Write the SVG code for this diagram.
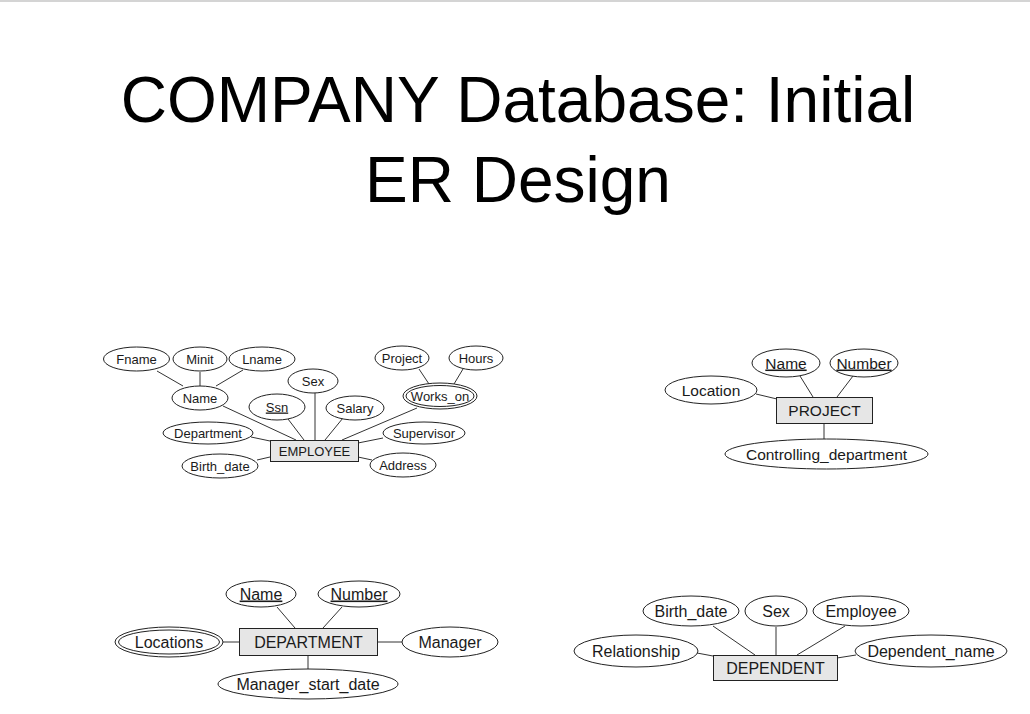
<svg xmlns="http://www.w3.org/2000/svg" width="1030" height="714" viewBox="0 0 1030 714">
<style>
.t{font-family:"Liberation Sans",Arial,sans-serif;fill:#1a1a1a;text-anchor:middle}
.title{font-size:64px;fill:#000}
.s{font-size:13px}
.m{font-size:15.5px}
.l{font-size:16px}
.u{text-decoration:underline}
ellipse{fill:#fff;stroke:#222;stroke-width:1}
rect.e{fill:#e6e6e6;stroke:#222;stroke-width:1}
#connectors line{stroke:#333;stroke-width:1}
</style>
<rect x="0" y="0" width="1030" height="714" fill="#fff"/>
<rect x="0" y="0" width="1030" height="2" fill="#d4d4d4"/>
<text class="t title" x="518" y="122">COMPANY Database: Initial</text>
<text class="t title" x="518" y="202">ER Design</text>

<g id="connectors">
<!-- EMPLOYEE -->
<line x1="157" y1="371" x2="183" y2="386"/>
<line x1="200" y1="372" x2="200" y2="387"/>
<line x1="243" y1="370" x2="216" y2="386"/>
<line x1="223" y1="406" x2="296" y2="440"/>
<line x1="288" y1="419" x2="304" y2="440"/>
<line x1="315" y1="393" x2="315" y2="440"/>
<line x1="343" y1="418" x2="325" y2="440"/>
<line x1="417" y1="408" x2="342" y2="440"/>
<line x1="251" y1="437" x2="270" y2="441"/>
<line x1="257" y1="460" x2="270" y2="457"/>
<line x1="383" y1="438" x2="358" y2="443"/>
<line x1="358" y1="457" x2="372" y2="460"/>
<line x1="419" y1="369" x2="429" y2="384"/>
<line x1="463" y1="369" x2="454" y2="384"/>
<!-- PROJECT -->
<line x1="800" y1="376" x2="813" y2="397"/>
<line x1="853" y1="376" x2="837" y2="397"/>
<line x1="756" y1="394" x2="777" y2="399"/>
<line x1="824" y1="423" x2="824" y2="439"/>
<!-- DEPARTMENT -->
<line x1="277" y1="607" x2="295" y2="628"/>
<line x1="342" y1="607" x2="323" y2="628"/>
<line x1="223" y1="642" x2="239" y2="642"/>
<line x1="377" y1="642" x2="402" y2="642"/>
<line x1="308" y1="655" x2="308" y2="669"/>
<!-- DEPENDENT -->
<line x1="713" y1="626" x2="755" y2="655"/>
<line x1="776" y1="627" x2="776" y2="655"/>
<line x1="845" y1="626" x2="797" y2="655"/>
<line x1="697" y1="653" x2="713" y2="656"/>
<line x1="837" y1="658" x2="856" y2="655"/>
</g>

<g id="EMPLOYEE"><rect class="e" x="270.5" y="440.5" width="88" height="21"/><text class="t s" x="314.5" y="456">EMPLOYEE</text></g>
<g id="emp-fname"><ellipse cx="136.5" cy="359" rx="33" ry="12"/><text class="t s" x="136.5" y="363.5">Fname</text></g>
<g id="emp-minit"><ellipse cx="200" cy="359" rx="27" ry="12"/><text class="t s" x="200" y="363.5">Minit</text></g>
<g id="emp-lname"><ellipse cx="262" cy="359" rx="33" ry="12"/><text class="t s" x="262" y="363.5">Lname</text></g>
<g id="emp-name"><ellipse cx="200" cy="398" rx="28" ry="12"/><text class="t s" x="200" y="402.5">Name</text></g>
<g id="emp-ssn"><ellipse cx="277" cy="407" rx="28" ry="13"/><text class="t s u" x="277" y="411.5">Ssn</text></g>
<g id="emp-sex"><ellipse cx="313" cy="381" rx="25" ry="12"/><text class="t s" x="313" y="385.5">Sex</text></g>
<g id="emp-salary"><ellipse cx="355" cy="408" rx="29" ry="12"/><text class="t s" x="355" y="412.5">Salary</text></g>
<g id="emp-project"><ellipse cx="402" cy="358" rx="27" ry="12"/><text class="t s" x="402" y="362.5">Project</text></g>
<g id="emp-hours"><ellipse cx="476" cy="358" rx="27" ry="12"/><text class="t s" x="476" y="362.5">Hours</text></g>
<g id="emp-works_on"><ellipse cx="440" cy="396" rx="37" ry="13"/><ellipse cx="440" cy="396" rx="34" ry="10.5"/><text class="t s" x="440" y="400.5">Works_on</text></g>
<g id="emp-department"><ellipse cx="208" cy="433" rx="45" ry="11"/><text class="t s" x="208" y="437.5">Department</text></g>
<g id="emp-birth_date"><ellipse cx="220" cy="466" rx="38" ry="12"/><text class="t s" x="220" y="470.5">Birth_date</text></g>
<g id="emp-supervisor"><ellipse cx="424" cy="433" rx="41" ry="11"/><text class="t s" x="424" y="437.5">Supervisor</text></g>
<g id="emp-address"><ellipse cx="403" cy="465" rx="33" ry="12"/><text class="t s" x="403" y="469.5">Address</text></g>

<g id="PROJECT"><rect class="e" x="776.5" y="397.5" width="96" height="26"/><text class="t m" x="824.5" y="416">PROJECT</text></g>
<g id="proj-name"><ellipse cx="786" cy="363" rx="34" ry="14"/><text class="t m u" x="786" y="368.5">Name</text></g>
<g id="proj-number"><ellipse cx="864" cy="363" rx="34" ry="14"/><text class="t m u" x="864" y="368.5">Number</text></g>
<g id="proj-location"><ellipse cx="711" cy="390" rx="46" ry="14"/><text class="t m" x="711" y="395.5">Location</text></g>
<g id="proj-controlling"><ellipse cx="826.5" cy="454" rx="101.5" ry="15"/><text class="t m" x="826.5" y="459.5">Controlling_department</text></g>

<g id="DEPARTMENT"><rect class="e" x="239.5" y="628.5" width="138" height="27"/><text class="t l" x="308.5" y="648">DEPARTMENT</text></g>
<g id="dept-name"><ellipse cx="261" cy="594" rx="35" ry="13"/><text class="t l u" x="261" y="599.5">Name</text></g>
<g id="dept-number"><ellipse cx="359" cy="594" rx="41" ry="13"/><text class="t l u" x="359" y="599.5">Number</text></g>
<g id="dept-locations"><ellipse cx="169" cy="642" rx="54" ry="15"/><ellipse cx="169" cy="642" rx="50.5" ry="12"/><text class="t l" x="169" y="647.5">Locations</text></g>
<g id="dept-manager"><ellipse cx="450" cy="642" rx="48" ry="15"/><text class="t l" x="450" y="647.5">Manager</text></g>
<g id="dept-msd"><ellipse cx="308" cy="684" rx="90" ry="15"/><text class="t l" x="308" y="689.5">Manager_start_date</text></g>

<g id="DEPENDENT"><rect class="e" x="713.5" y="655.5" width="124" height="25"/><text class="t l" x="775.5" y="674">DEPENDENT</text></g>
<g id="dep-birth_date"><ellipse cx="691" cy="611" rx="48" ry="15"/><text class="t l" x="691" y="616.5">Birth_date</text></g>
<g id="dep-sex"><ellipse cx="776" cy="611" rx="31" ry="15"/><text class="t l" x="776" y="616.5">Sex</text></g>
<g id="dep-employee"><ellipse cx="861" cy="611" rx="48" ry="15"/><text class="t l" x="861" y="616.5">Employee</text></g>
<g id="dep-relationship"><ellipse cx="636" cy="651" rx="62" ry="16"/><text class="t l" x="636" y="656.5">Relationship</text></g>
<g id="dep-dependent_name"><ellipse cx="931" cy="651" rx="76" ry="16"/><text class="t l" x="931" y="656.5">Dependent_name</text></g>
</svg>
